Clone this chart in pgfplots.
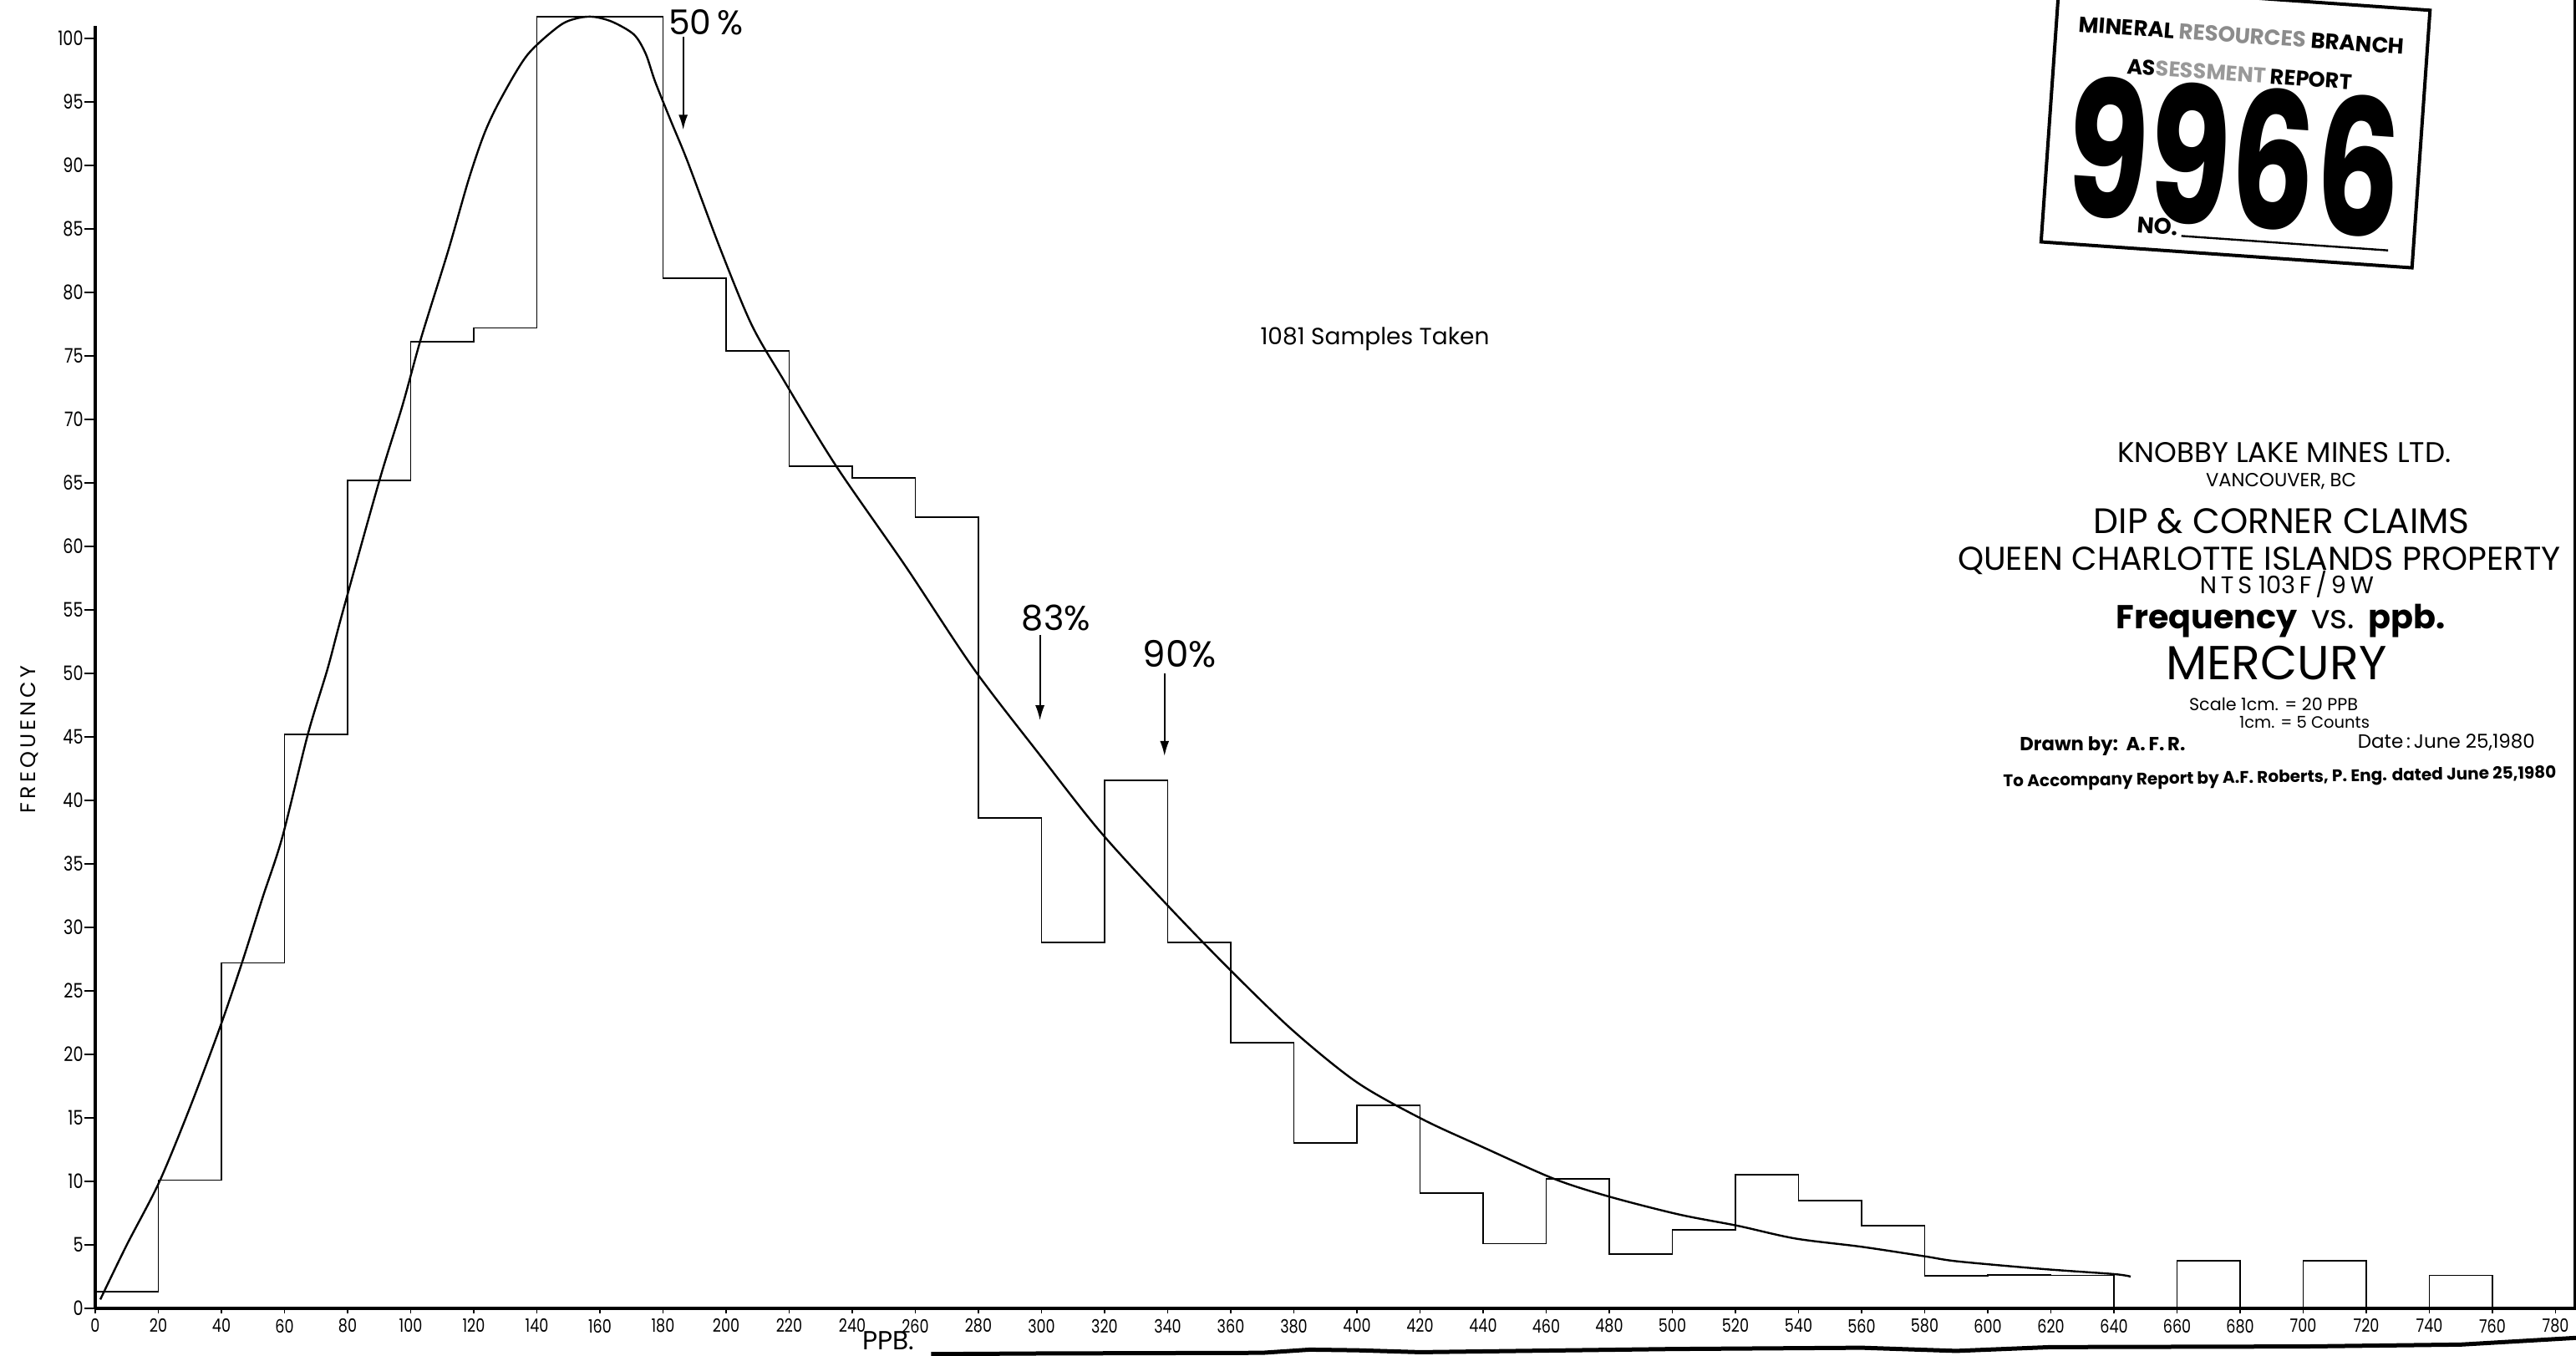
\documentclass[border=0pt]{standalone}
\usepackage{fontspec}
\setmainfont{Poppins}
\newfontfamily\tickfont{Poppins}[FakeStretch=0.8]
\usepackage{graphicx}
\usepackage{xcolor}
\usepackage{pgfplots}
\pgfplotsset{compat=1.18}
\usetikzlibrary{arrows.meta}

% scale a line of lettering to the width measured on the sheet
\newcommand{\tx}[2]{\resizebox{#1}{!}{#2}}

\begin{document}
\begin{tikzpicture}
\begin{axis}[
    x=1.8875pt, y=7.6pt,
    xmin=0, xmax=786.5, ymin=0, ymax=101,
    axis x line*=bottom, axis y line*=left,
    axis line style={-},
    x axis line style={line width=2.2pt},
    y axis line style={line width=1.8pt},
    xtick={0,20,...,780}, ytick={0,5,...,100},
    tick align=outside,
    major tick length=6.5pt,
    xtick style={black, line width=0.9pt, /pgfplots/major tick length=3pt},
    ytick style={black, line width=0.9pt},
    xticklabel style={font=\tickfont\fontsize{11}{12}\selectfont, inner sep=0.5pt, yshift=0.8pt},
    yticklabel style={font=\tickfont\fontsize{12}{13}\selectfont, inner sep=0.5pt},
    /pgf/number format/assume math mode=true,
    clip=false,
]
\coordinate (O) at (axis cs:0,0);
\coordinate (stamp) at (axis cs:678.6,92.8);

% histogram, 20 ppb classes
\addplot[const plot, line width=0.9pt] coordinates {
    (0,1.3) (20,10.1) (40,27.2) (60,45.2) (80,65.2) (100,76.1) (120,77.2)
    (140,101.7) (160,101.7) (180,81.1) (200,75.4) (220,66.3) (240,65.4)
    (260,62.3) (280,38.6) (300,28.8) (320,41.6) (340,28.8) (360,20.9)
    (380,13.0) (400,16.0) (420,9.1) (440,5.1) (460,10.2) (480,4.3)
    (500,6.2) (520,10.5) (540,8.5) (560,6.5) (580,2.55) (600,2.65)
    (620,2.6) (640,0) (660,3.75) (680,0) (700,3.75) (720,0) (740,2.6)
    (760,0) (780,0)
};

% fitted curve
\addplot[smooth, tension=0.5, line width=1.2pt] coordinates {
    (1.6,0.7) (10,5.0) (20.2,9.9) (30,15.8) (39.5,22.1) (46.5,27.2)
    (53,32.3) (59.3,37.1) (67.4,45.2) (73.7,50.4) (78.3,54.7) (90.1,65.2)
    (97.4,71.1) (103.3,76.4) (111.8,83.2) (118.4,88.9) (123.5,92.6)
    (128.7,95.3) (137,98.7) (147.2,101.0) (153,101.6) (158,101.7)
    (164,101.3) (170.8,100.3) (174.5,98.8) (177.5,96.6) (182.5,93.5)
    (187.8,90.3) (197.9,83.6) (208,77.5) (218,73.2) (234.7,66.4)
    (257,58.4) (278.4,50.4) (299.7,43.5) (318.4,37.6) (339.7,31.8)
    (359.2,26.8) (379.6,21.9) (400,17.8) (420.7,14.9) (439,12.8)
    (462.5,10.2) (480,8.8) (502,7.4) (520.8,6.5) (539,5.5) (560,4.85)
    (580,4.1) (590.5,3.7) (617.5,3.1) (640,2.7) (645.3,2.5)
};

% edges of the sheet
\addplot[line width=3pt] coordinates {(786.5,0) (786.5,104)};
\addplot[line width=2.5pt] coordinates {
    (265,-3.6) (300,-3.55) (370,-3.5) (385,-3.25) (400,-3.3) (420,-3.45)
    (500,-3.2) (560,-3.1) (590,-3.35) (620,-3.05) (700,-3.0) (750,-2.85)
    (788,-2.3)
};

% percentile arrows
\draw[line width=0.9pt, -{Latex[length=9pt,width=5.5pt]}] (axis cs:186.4,100.1) -- (axis cs:186.4,92.8);
\draw[line width=0.9pt, -{Latex[length=9pt,width=5.5pt]}] (axis cs:299.5,53.0) -- (axis cs:299.5,46.3);
\draw[line width=0.9pt, -{Latex[length=9pt,width=5.5pt]}] (axis cs:339,50.0) -- (axis cs:339,43.5);
\node[anchor=base] at (axis cs:193.6,100.3) {\tx{44.6pt}{50\,\%}};
\node[anchor=base] at (axis cs:304.6,53.4) {\tx{41pt}{83\%}};
\node[anchor=base] at (axis cs:343.8,50.5) {\tx{44pt}{90\%}};

% axis titles
\node[rotate=90] at (axis cs:-20.9,44.8) {\tx{88.5pt}{F\,R\,E\,Q\,U\,E\,N\,C\,Y}};
\node[anchor=base] at (axis cs:251.4,-3.25) {\tx{31pt}{PPB.}};
\node[anchor=base] at (axis cs:405.7,75.9) {\tx{137pt}{1081 Samples Taken}};

% title block
\node[anchor=base] at (axis cs:694.0,66.6) {\tx{199.5pt}{KNOBBY\ LAKE\ MINES\ LTD.}};
\node[anchor=base] at (axis cs:693.0,64.7) {\tx{90pt}{VANCOUVER, BC}};
\node[anchor=base] at (axis cs:693.2,61.0) {\tx{225pt}{DIP \& CORNER CLAIMS}};
\node[anchor=base] at (axis cs:686.1,58.1) {\tx{361pt}{QUEEN CHARLOTTE ISLANDS PROPERTY}};
\node[anchor=base] at (axis cs:694.8,56.3) {\tx{104pt}{N\,T\,S 103\,F\,/\,9\,W}};
\node[anchor=base] at (axis cs:692.8,53.5) {\tx{197pt}{\bfseries Frequency\ \ {\mdseries vs.}\ \ ppb.}};
\node[anchor=base] at (axis cs:691.5,49.5) {\tx{132pt}{MERCURY}};
\node[anchor=base] at (axis cs:690.6,47.1) {\tx{101pt}{Scale 1cm. = 20 PPB}};
\node[anchor=base] at (axis cs:700.4,45.7) {\tx{78pt}{1cm. = 5 Counts}};
\node[anchor=base] at (axis cs:636.4,43.9) {\tx{99pt}{\bfseries Drawn by:\ \ A.\,F.\,R.}};
\node[anchor=base] at (axis cs:745.4,44.1) {\tx{106pt}{Date\,:\,June 25,1980}};
\node[anchor=base, rotate=0.9] at (axis cs:692.6,41.4) {\tx{331pt}{\bfseries To Accompany Report by A.F. Roberts, P. Eng. dated June 25,1980}};
\end{axis}

% assessment report stamp
\begin{scope}[shift={(stamp)}, rotate=-4, transform shape]
\draw[line width=2pt] (-111.5pt,-75pt) rectangle (111pt,79.5pt);
\node[anchor=base] at (-0.3pt,52pt) {\tx{195pt}{\bfseries MINERAL \textcolor{black!45}{RESOURCES} BRANCH}};
\node[anchor=base] at (0pt,28.9pt) {\tx{135pt}{\bfseries AS\textcolor{black!40}{SESSMENT} REPORT}};
\node[anchor=base, inner sep=0pt] at (0.35pt,-58pt) {\resizebox{200pt}{84.5pt}{\bfseries 9966}};
\node[anchor=base east, inner sep=0pt] at (-30pt,-65.5pt) {\tx{24.5pt}{\bfseries NO.}};
\draw[line width=1.2pt] (-28pt,-65.6pt) -- (96pt,-65.6pt);
\end{scope}

\pgfresetboundingbox
\path[use as bounding box] (O) ++(-57pt,-28pt) rectangle ++(1541.5pt,811pt);
\end{tikzpicture}
\end{document}
